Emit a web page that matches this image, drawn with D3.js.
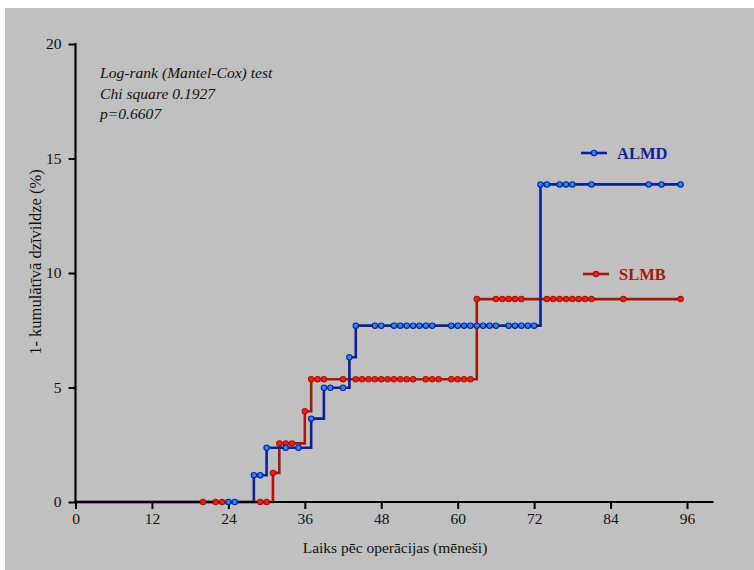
<!DOCTYPE html>
<html>
<head>
<meta charset="utf-8">
<script src="https://cdn.jsdelivr.net/npm/d3@7"></script>
<style>
  html, body { margin: 0; padding: 0; background: #fff; }
  svg { display: block; }
</style>
</head>
<body>
<svg id="chart" width="754" height="570"></svg>
<script>
//
// Data
//

// ALMD: step events [month, percent] and censored marks
var almdSteps = [[0, 0], [28, 1.17], [30, 2.37], [37, 3.64], [39, 4.99], [43, 6.32], [44, 7.70], [73, 13.87]]
var almdEnd = 95
var almdMarks = [
  [24, 0], [25, 0],
  [28, 1.17], [29, 1.17],
  [30, 2.37], [33, 2.37], [35, 2.37],
  [37, 3.64],
  [39, 4.99], [40, 4.99], [42, 4.99],
  [43, 6.32],
  [44, 7.70], [47, 7.70], [48, 7.70], [50, 7.70], [51, 7.70], [52, 7.70], [53, 7.70], [54, 7.70],
  [55, 7.70], [56, 7.70], [59, 7.70], [60, 7.70], [61, 7.70], [62, 7.70], [63, 7.70], [64, 7.70],
  [65, 7.70], [66, 7.70], [68, 7.70], [69, 7.70], [70, 7.70], [71, 7.70], [72, 7.70],
  [73, 13.87], [74, 13.87], [76, 13.87], [77, 13.87], [78, 13.87], [81, 13.87], [90, 13.87], [92, 13.87], [95, 13.87]
]

// SLMB
var slmbSteps = [[0, 0], [31, 1.27], [32, 2.56], [36, 3.96], [37, 5.36], [63, 8.86]]
var slmbEnd = 95
var slmbMarks = [
  [20, 0], [22, 0], [23, 0], [29, 0], [30, 0],
  [31, 1.27],
  [32, 2.56], [33, 2.56], [34, 2.56],
  [36, 3.96],
  [37, 5.36], [38, 5.36], [39, 5.36], [42, 5.36], [44, 5.36], [45, 5.36], [46, 5.36], [47, 5.36],
  [48, 5.36], [49, 5.36], [50, 5.36], [51, 5.36], [52, 5.36], [53, 5.36], [55, 5.36], [56, 5.36],
  [57, 5.36], [59, 5.36], [60, 5.36], [61, 5.36], [62, 5.36],
  [63, 8.86], [66, 8.86], [67, 8.86], [68, 8.86], [69, 8.86], [70, 8.86], [74, 8.86], [75, 8.86],
  [76, 8.86], [77, 8.86], [78, 8.86], [79, 8.86], [80, 8.86], [81, 8.86], [86, 8.86], [95, 8.86]
]

var xTicks = [0, 12, 24, 36, 48, 60, 72, 84, 96]
var yTicks = [0, 5, 10, 15, 20]
var statLines = ['Log-rank (Mantel-Cox) test', 'Chi square 0.1927', 'p=0.6607']
var seriesNames = ['ALMD', 'SLMB']

//
// Colors
//
var colorBg = '#c0c0c0'
var blueLine = '#0a2299', blueDot = '#1a8cff'
var redLine = '#a8160a', redDot = '#f02010'
var font = '"Liberation Serif", "Times New Roman", serif'

var svg = d3.select('#chart')

svg.append('rect')
  .attr('x', 5).attr('y', 8)
  .attr('width', 749).attr('height', 562)
  .attr('fill', colorBg)

var x = d3.scaleLinear().domain([0, 96]).range([75.5, 687])
var y = d3.scaleLinear().domain([0, 20]).range([502, 44])

var line = d3.line()
  .x(function (d) { return x(d[0]) })
  .y(function (d) { return y(d[1]) })
  .curve(d3.curveStepAfter)

function drawLine(steps, end, color) {
  var pts = steps.concat([[end, steps[steps.length - 1][1]]])
  svg.append('path')
    .datum(pts)
    .attr('d', line)
    .attr('fill', 'none')
    .attr('stroke', color)
    .attr('stroke-width', 2.6)
}

function drawMarks(marks, fillColor, strokeColor) {
  svg.append('g').selectAll('circle')
    .data(marks)
    .enter().append('circle')
    .attr('cx', function (d) { return x(d[0]) })
    .attr('cy', function (d) { return y(d[1]) })
    .attr('r', 2.7)
    .attr('fill', fillColor)
    .attr('stroke', strokeColor)
    .attr('stroke-width', 1.1)
}

drawLine(slmbSteps, slmbEnd, redLine)
drawLine(almdSteps, almdEnd, blueLine)

//
// Axes
//
var xAxis = svg.append('g')
  .attr('transform', 'translate(0,502)')
  .call(d3.axisBottom(x).tickValues(xTicks).tickSize(7).tickPadding(4).tickSizeOuter(0))
xAxis.select('.domain').remove()
xAxis.append('line')
  .attr('x1', x(0) - 1).attr('x2', 713.5)
  .attr('stroke', '#000').attr('stroke-width', 2.2)

var yAxis = svg.append('g')
  .attr('transform', 'translate(75.5,0)')
  .call(d3.axisLeft(y).tickValues(yTicks).tickSize(7).tickPadding(7).tickSizeOuter(0))
yAxis.select('.domain').remove()
yAxis.append('line')
  .attr('y1', y(20) - 1).attr('y2', y(0) + 1)
  .attr('stroke', '#000').attr('stroke-width', 2.2)

svg.selectAll('.tick line').attr('stroke', '#000').attr('stroke-width', 2)
svg.selectAll('.tick text')
  .attr('fill', '#111')
  .style('font-family', font)
  .style('font-size', '15.5px')

drawMarks(slmbMarks, redDot, redLine)
drawMarks(almdMarks, blueDot, blueLine)

//
// Titles
//
svg.append('text')
  .attr('x', 395).attr('y', 553)
  .attr('text-anchor', 'middle')
  .style('font-family', font).style('font-size', '15.5px')
  .attr('fill', '#111')
  .text('Laiks pēc operācijas (mēneši)')

svg.append('text')
  .attr('transform', 'translate(41,262) rotate(-90)')
  .attr('text-anchor', 'middle')
  .style('font-family', font).style('font-size', '16.5px')
  .attr('fill', '#111')
  .text('1- kumulātīvā dzīvildze (%)')

svg.append('g').selectAll('text')
  .data(statLines)
  .enter().append('text')
  .attr('x', 100)
  .attr('y', function (d, i) { return 78 + i * 20.5 })
  .style('font-family', font).style('font-size', '15.6px').style('font-style', 'italic')
  .attr('fill', '#111')
  .text(function (d) { return d })

//
// Legend
//
var legend = [
  { name: seriesNames[0], y: 153, x: 581, line: blueLine, dot: blueDot },
  { name: seriesNames[1], y: 274, x: 583, line: redLine, dot: redDot }
]
legend.forEach(function (l) {
  svg.append('line')
    .attr('x1', l.x).attr('x2', l.x + 26)
    .attr('y1', l.y).attr('y2', l.y)
    .attr('stroke', l.line).attr('stroke-width', 2.6)
  svg.append('circle')
    .attr('cx', l.x + 13).attr('cy', l.y).attr('r', 2.7)
    .attr('fill', l.dot).attr('stroke', l.line).attr('stroke-width', 1.1)
  svg.append('text')
    .attr('x', l.x + 36).attr('y', l.y + 6)
    .style('font-family', font).style('font-size', '16.5px').style('font-weight', 'bold')
    .attr('fill', l.line)
    .text(l.name)
})
</script>
</body>
</html>
